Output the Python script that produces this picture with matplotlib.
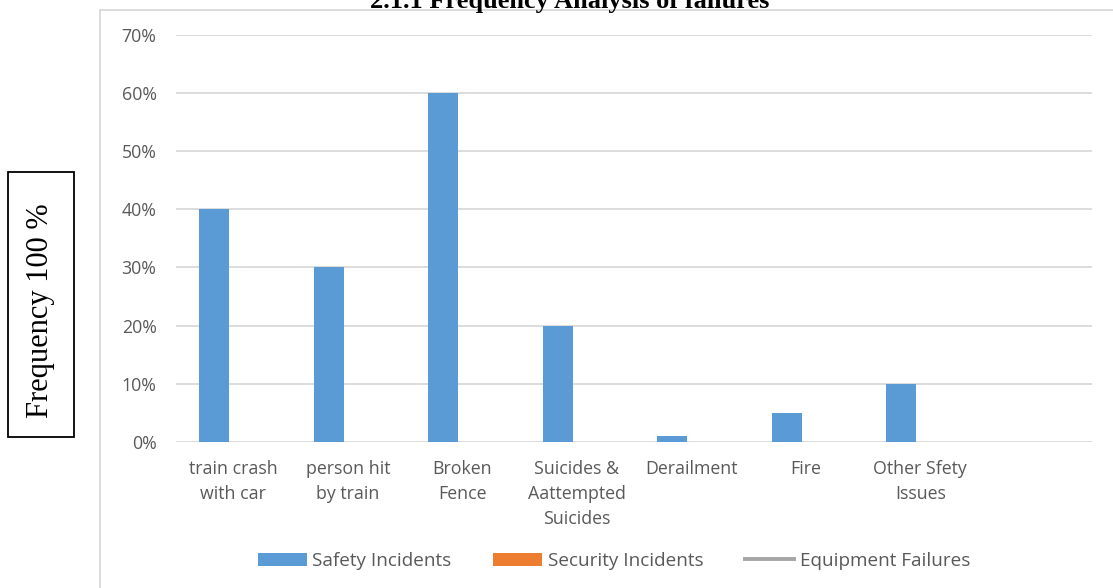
import numpy as np
import matplotlib
matplotlib.use("Agg")
import matplotlib.pyplot as plt
from matplotlib.patches import Rectangle, Patch
from matplotlib.lines import Line2D

# Incident categories (last slot is left blank on the axis)
categories = ["train crash\nwith car", "person hit\nby train", "Broken\nFence",
              "Suicides &\nAattempted\nSuicides", "Derailment", "Fire",
              "Other Sfety\nIssues", ""]
safety_incidents = [0.40, 0.30, 0.60, 0.20, 0.01, 0.05, 0.10, 0.0]
security_incidents = [0, 0, 0, 0, 0, 0, 0, 0]
equipment_failures = [np.nan] * 8
y_ticks = [0.0, 0.1, 0.2, 0.3, 0.4, 0.5, 0.6, 0.7]
y_tick_labels = ["0%", "10%", "20%", "30%", "40%", "50%", "60%", "70%"]

W, H = 1113, 588
fig = plt.figure(figsize=(W / 100, H / 100), dpi=100)
fig.patch.set_facecolor("white")

BLUE = "#5b9bd5"
ORANGE = "#ed7d31"
GRAY = "#a5a5a5"
TXT = "#595959"
GRID = "#d9d9d9"
sans = ["Open Sans", "DejaVu Sans"]
serif = ["Liberation Serif", "DejaVu Serif"]
FS = 12.8

# Chart-area border
fig.add_artist(Rectangle((100 / W, -0.2), 1.2, 1.2 - 10 / H,
                         transform=fig.transFigure, fill=False,
                         edgecolor=GRID, lw=1.3))

ax = fig.add_axes([176 / W, (H - 442) / H, 916 / W, (442 - 34.5) / H])
x = np.arange(len(categories))
bw = 0.262
off = 0.168
ax.bar(x - off, safety_incidents, width=bw, color=BLUE, zorder=3)
ax.bar(x + off, security_incidents, width=bw, color=ORANGE, zorder=3)
ax.plot(x, equipment_failures, color=GRAY, lw=2.5, zorder=4)

ax.set_xlim(-0.5, len(categories) - 0.5)
ax.set_ylim(0, 0.70)
ax.set_yticks(y_ticks)
ax.set_yticklabels(y_tick_labels, fontfamily=sans, fontsize=FS, color=TXT)
ax.set_xticks(x)
ax.set_xticklabels(categories, fontfamily=sans, fontsize=FS, color=TXT,
                   linespacing=1.5, va="top")
ax.tick_params(axis="both", length=0)
ax.tick_params(axis="y", pad=14)
ax.tick_params(axis="x", pad=13)
ax.grid(axis="y", color=GRID, lw=1.3, zorder=0)
for s in ax.spines.values():
    s.set_visible(False)

# Title (sits at the very top edge)
fig.text(570 / W, 1 - 8 / H, "2.1.1 Frequency Analysis of failures",
         ha="center", va="baseline", fontfamily=serif, fontweight="bold",
         fontsize=19, color="black")

# Boxed y-axis caption
fig.add_artist(Rectangle((8 / W, 1 - 437 / H), 66 / W, 265 / H,
                         transform=fig.transFigure, fill=False,
                         edgecolor="black", lw=1.3))
fig.text(41 / W, 1 - 311 / H, "Frequency 100 %", rotation=90,
         ha="center", va="center", fontfamily=serif, fontsize=22,
         color="black")

handles = [Patch(facecolor=BLUE, edgecolor="none", label="Safety Incidents"),
           Patch(facecolor=ORANGE, edgecolor="none", label="Security Incidents"),
           Line2D([], [], color=GRAY, lw=2.8, label="Equipment Failures")]
leg = fig.legend(handles=handles, loc="center", bbox_to_anchor=(614 / W, 1 - 561 / H),
                 ncol=3, frameon=False, handlelength=2.6, handletextpad=0.3,
                 columnspacing=2.2, prop={"family": sans, "size": 13.6})
for t in leg.get_texts():
    t.set_color(TXT)

fig.savefig("out.png", dpi=100)
